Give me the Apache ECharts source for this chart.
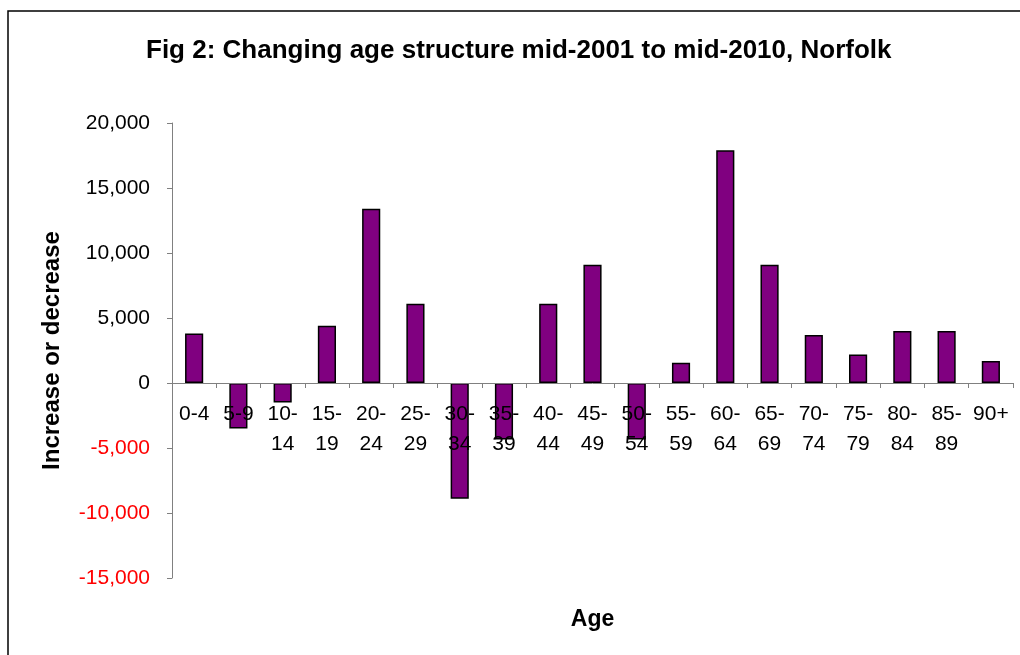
<!DOCTYPE html>
<html><head><meta charset="utf-8">
<script src="https://cdn.jsdelivr.net/npm/echarts@6/dist/echarts.min.js"></script>
<style>html,body{margin:0;padding:0;background:#fff}#c{width:1020px;height:655px}</style>
</head><body><div id="c"></div>
<script>
const categories = ["0-4","5-9","10-14","15-19","20-24","25-29","30-34","35-39","40-44","45-49","50-54","55-59","60-64","65-69","70-74","75-79","80-84","85-89","90+"];
const changeValues = [3800,-3500,-1500,4400,13400,6100,-8900,-4350,6100,9100,-4350,1550,17900,9100,3700,2200,4000,4000,1700];
const yTicks = {min:-15000, max:20000, interval:5000};
const FONT = "'Liberation Sans', Arial, sans-serif";
const GRID = {left:172, right:7, top:123, bottom:77};
const chart = echarts.init(document.getElementById('c'), null, {renderer:'canvas'});
// place the category axis at the value-axis zero line (computed from the scale)
const plotH = 655 - GRID.top - GRID.bottom;
const zeroOffset = -plotH * (0 - yTicks.min) / (yTicks.max - yTicks.min);
chart.setOption({
  animation:false,
  backgroundColor:'#fff',
  title:{text:'Fig 2: Changing age structure mid-2001 to mid-2010, Norfolk', left:141, top:33,
    textStyle:{fontFamily:FONT, fontSize:26, fontWeight:'bold', color:'#000'}},
  graphic:[{type:'rect', shape:{x:8,y:11,width:1100,height:1000}, style:{fill:'none', stroke:'#000', lineWidth:1.5}, silent:true}],
  grid:Object.assign({containLabel:false, outerBoundsMode:'none'}, GRID),
  xAxis:{type:'category', data:categories, position:'bottom', offset:zeroOffset, z:5,
    axisLine:{onZero:false, lineStyle:{color:'#808080', width:1}},
    axisTick:{show:true, alignWithLabel:false, length:5, lineStyle:{color:'#808080'}},
    axisLabel:{interval:0, margin:16, fontFamily:FONT, fontSize:21, color:'#000', lineHeight:30,
      formatter:v => v.length>3 ? v.replace('-', '-\n') : v},
    name:'Age', nameLocation:'middle', nameGap:225,
    nameTextStyle:{fontFamily:FONT, fontSize:23, fontWeight:'bold', color:'#000'}},
  yAxis:{type:'value', min:yTicks.min, max:yTicks.max, interval:yTicks.interval,
    splitLine:{show:false},
    axisLine:{show:true, lineStyle:{color:'#808080'}},
    axisTick:{show:true, length:5, lineStyle:{color:'#808080'}},
    axisLabel:{margin:22, fontFamily:FONT, fontSize:21,
      color:v => (v<0 ? '#ff0000' : '#000'),
      formatter:v => v.toLocaleString('en-US')},
    name:'Increase or decrease', nameLocation:'middle', nameGap:108,
    nameTextStyle:{fontFamily:FONT, fontSize:24, fontWeight:'bold', color:'#000'}},
  series:[{type:'bar', data:changeValues, barWidth:'41%', z:2,
    itemStyle:{color:'#800080', borderColor:'#000', borderWidth:1.5}}]
});
</script></body></html>
